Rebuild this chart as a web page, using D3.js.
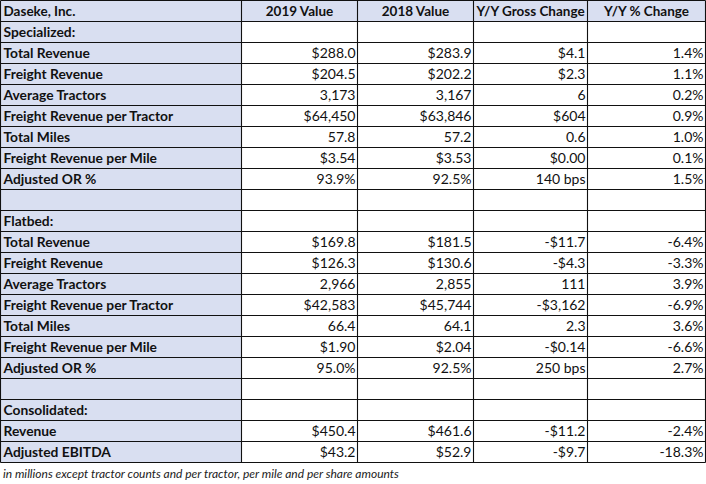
<!DOCTYPE html>
<html><head><meta charset="utf-8">
<script src="https://cdn.jsdelivr.net/npm/d3@7"></script>
<style>
html,body{margin:0;padding:0;background:#fff;}
svg{display:block;}
</style></head>
<body>
<svg id="chart" width="706" height="484"></svg>
<script>
const headers = ["Daseke, Inc.", "2019 Value", "2018 Value", "Y/Y Gross Change", "Y/Y % Change"];
const rowLabels = ["Specialized:", "Total Revenue", "Freight Revenue", "Average Tractors", "Freight Revenue per Tractor", "Total Miles", "Freight Revenue per Mile", "Adjusted OR %", "",
  "Flatbed:", "Total Revenue", "Freight Revenue", "Average Tractors", "Freight Revenue per Tractor", "Total Miles", "Freight Revenue per Mile", "Adjusted OR %", "",
  "Consolidated:", "Revenue", "Adjusted EBITDA"];
const value2019 = ["", "$288.0", "$204.5", "3,173", "$64,450", "57.8", "$3.54", "93.9%", "",
  "", "$169.8", "$126.3", "2,966", "$42,583", "66.4", "$1.90", "95.0%", "",
  "", "$450.4", "$43.2"];
const value2018 = ["", "$283.9", "$202.2", "3,167", "$63,846", "57.2", "$3.53", "92.5%", "",
  "", "$181.5", "$130.6", "2,855", "$45,744", "64.1", "$2.04", "92.5%", "",
  "", "$461.6", "$52.9"];
const grossChange = ["", "$4.1", "$2.3", "6", "$604", "0.6", "$0.00", "140 bps", "",
  "", "-$11.7", "-$4.3", "111", "-$3,162", "2.3", "-$0.14", "250 bps", "",
  "", "-$11.2", "-$9.7"];
const pctChange = ["", "1.4%", "1.1%", "0.2%", "0.9%", "1.0%", "0.1%", "1.5%", "",
  "", "-6.4%", "-3.3%", "3.9%", "-6.9%", "3.6%", "-6.6%", "2.7%", "",
  "", "-2.4%", "-18.3%"];
const footnote = "in millions except tractor counts and per tractor, per mile and per share amounts";

const svg = d3.select("#chart");
const font = "Lato, 'Open Sans', sans-serif";
const fill = "#d9dff1";

const colEdges = [0.5, 241.5, 357.5, 473.5, 587.5, 705.5];
const nRows = rowLabels.length + 1;
const y = d3.scaleBand().domain(d3.range(nRows)).range([0.5, 462.5]);

const columns = [rowLabels, value2019, value2018, grossChange, pctChange];

// backgrounds
svg.append("g").selectAll("rect").data(d3.range(nRows)).join("rect")
  .attr("x", colEdges[0]).attr("y", d => y(d)).attr("width", colEdges[1] - colEdges[0]).attr("height", y.bandwidth())
  .attr("fill", fill);
svg.append("rect").attr("x", colEdges[1]).attr("y", y(0)).attr("width", colEdges[5] - colEdges[1]).attr("height", y.bandwidth()).attr("fill", fill);

// grid lines
const g = svg.append("g").attr("stroke", "#111").attr("stroke-width", 1.1);
g.selectAll("line.h").data(d3.range(nRows + 1)).join("line").attr("class", "h")
  .attr("x1", colEdges[0]).attr("x2", colEdges[5])
  .attr("y1", d => d === nRows ? y.range()[1] : y(d)).attr("y2", d => d === nRows ? y.range()[1] : y(d));
g.selectAll("line.v").data(colEdges).join("line").attr("class", "v")
  .attr("x1", d => d).attr("x2", d => d).attr("y1", y.range()[0]).attr("y2", y.range()[1]);

// header text
svg.append("g").selectAll("text").data(headers).join("text")
  .attr("x", (d, i) => i === 0 ? colEdges[0] + 3 : (colEdges[i] + colEdges[i + 1]) / 2)
  .attr("y", y(0) + y.bandwidth() / 2).attr("dy", "0.36em")
  .attr("text-anchor", (d, i) => i === 0 ? "start" : "middle")
  .attr("font-family", font).attr("font-weight", "bold").attr("font-size", 13.5).attr("fill", "#111")
  .text(d => d);

// body text
columns.forEach((col, ci) => {
  svg.append("g").selectAll("text").data(col).join("text")
    .attr("x", ci === 0 ? colEdges[0] + 3 : colEdges[ci + 1] - 2)
    .attr("y", (d, i) => y(i + 1) + y.bandwidth() / 2).attr("dy", "0.36em")
    .attr("text-anchor", ci === 0 ? "start" : "end")
    .attr("font-family", font).attr("font-weight", ci === 0 ? "bold" : "normal")
    .attr("font-size", ci === 0 ? 13.8 : 14).attr("fill", "#111")
    .text(d => d);
});

svg.append("text").attr("x", 3).attr("y", 478)
  .attr("font-family", font).attr("font-style", "italic").attr("font-size", 12).attr("fill", "#222")
  .text(footnote);
</script>
</body></html>
